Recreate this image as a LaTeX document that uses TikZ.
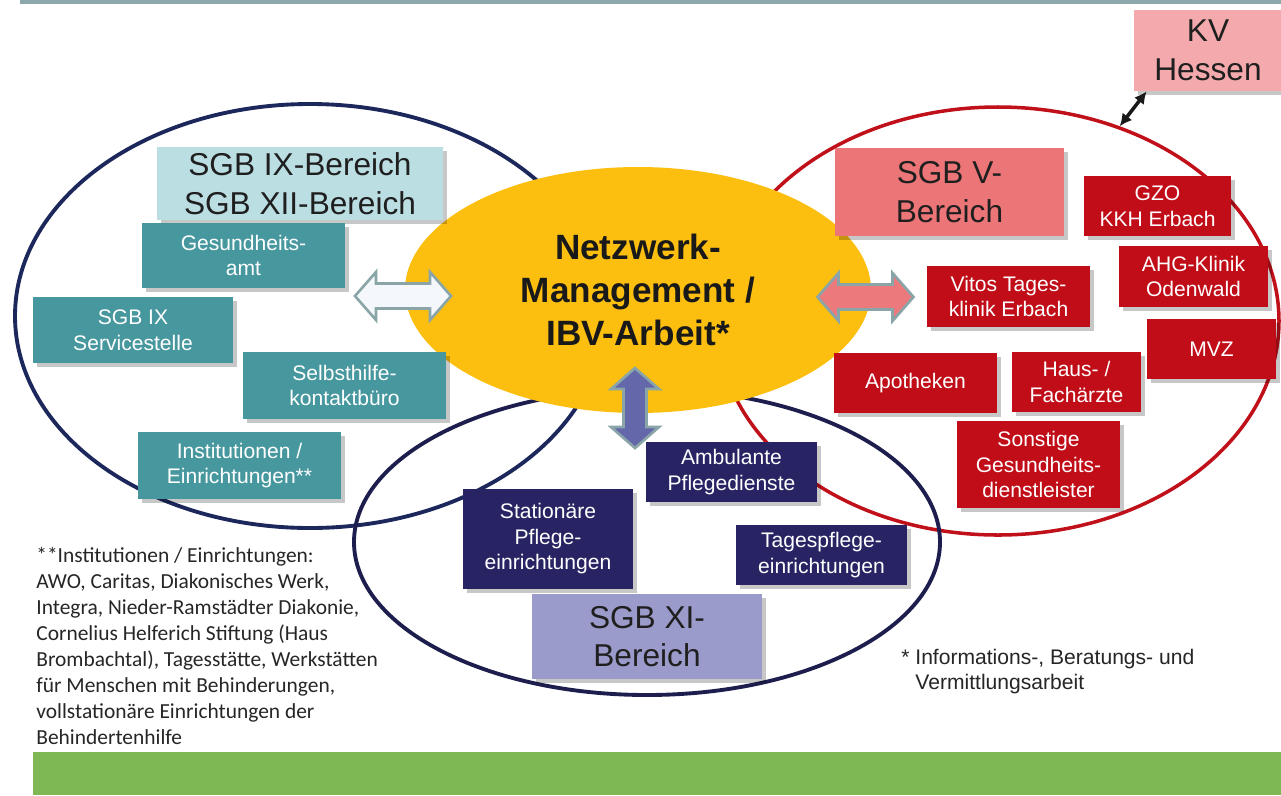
\documentclass[tikz,border=0pt]{standalone}
\usepackage{fontspec}
\setmainfont{Liberation Sans}
\newfontfamily\notefont{Carlito}
\usetikzlibrary{shapes.geometric,shadows,arrows.meta}
\definecolor{ringnavy}{RGB}{28,40,92}
\definecolor{ringdark}{RGB}{30,30,78}
\definecolor{ringred}{RGB}{192,16,26}
\definecolor{netyellow}{RGB}{252,191,16}
\definecolor{tealfill}{RGB}{70,151,158}
\definecolor{ixblue}{RGB}{187,222,227}
\definecolor{vred}{RGB}{192,13,23}
\definecolor{vpink}{RGB}{236,117,120}
\definecolor{kvpink}{RGB}{244,169,172}
\definecolor{xinavy}{RGB}{40,36,100}
\definecolor{xililac}{RGB}{155,155,203}
\definecolor{arrowrim}{RGB}{138,165,168}
\definecolor{arrowwhite}{RGB}{244,248,252}
\definecolor{arrowpink}{RGB}{236,122,124}
\definecolor{arrowlilac}{RGB}{100,104,170}
\definecolor{topbar}{RGB}{141,168,172}
\definecolor{footgreen}{RGB}{125,184,84}
\definecolor{notegray}{RGB}{38,38,38}
\newlength{\pxu}
\setlength{\pxu}{0.02cm}

\begin{document}
\begin{tikzpicture}[x=0.02cm,y=-0.02cm,>={Latex[length=7pt,width=7pt]},
        ring/.style={ellipse,draw,inner sep=0pt,line width=2.2pt},
        pane/.style={rectangle,inner sep=0pt,align=center,text=white,
            font=\fontsize{12}{14.5}\selectfont,
            drop shadow={shadow xshift=2.5pt,shadow yshift=-2.5pt,fill=black,opacity=0.22}},
        headbox/.style={pane,text=black!88,font=\fontsize{18}{22}\selectfont},
        bigarrow/.style={draw=arrowrim,line width=1.5pt}]
        \fill[white] (0,0) rectangle (1281,795);
        \useasboundingbox (0,0) rectangle (1281,795);
        \fill[topbar] (20,0) rectangle (1281,3.5);
        \fill[footgreen] (33,752) rectangle (1281,795);

        \node[ring,draw=ringnavy,minimum width=590\pxu,minimum height=424\pxu] (ixring) at (310,316) {};
        \node[ring,draw=ringred,line width=2pt,minimum width=562\pxu,minimum height=428\pxu] (vring) at (998,321) {};
        \node[ring,draw=ringdark,minimum width=586\pxu,minimum height=306\pxu] (xiring) at (647,542) {};
        \node[ellipse,fill=netyellow,inner sep=0pt,minimum width=466\pxu,minimum height=246\pxu,
            align=center,text=black!90,font=\fontsize{20}{24.5}\selectfont\bfseries] (netz) at (638,290)
            {Netzwerk-\\Management /\\IBV-Arbeit*};

        \draw[bigarrow,fill=arrowwhite,shift={(403,296)}] (-48,0)--(-27,-24)--(-27,-12.5)--(27,-12.5)--(27,-24)
            --(48,0)--(27,24)--(27,12.5)--(-27,12.5)--(-27,24)--cycle;
        \draw[bigarrow,fill=arrowpink,shift={(865.5,297)}] (-48,0)--(-27,-24)--(-27,-12.5)--(27,-12.5)--(27,-24)
            --(48,0)--(27,24)--(27,12.5)--(-27,12.5)--(-27,24)--cycle;
        \draw[bigarrow,fill=arrowlilac,shift={(635,408)}] (0,-40)--(-24,-19)--(-11.5,-19)--(-11.5,19)--(-24,19)
            --(0,40)--(24,19)--(11.5,19)--(11.5,-19)--(24,-19)--cycle;

        \node[headbox,fill=ixblue,minimum width=286\pxu,minimum height=73\pxu] (ixhead) at (300,183.5) {SGB IX-Bereich\\SGB XII-Bereich};
        \node[pane,fill=tealfill,minimum width=203\pxu,minimum height=65\pxu] (gesamt) at (243.5,255.5) {Gesundheits-\\amt};
        \node[pane,fill=tealfill,minimum width=200\pxu,minimum height=66\pxu] (service) at (133,330) {SGB IX\\Servicestelle};
        \node[pane,fill=tealfill,minimum width=203\pxu,minimum height=67\pxu] (selbst) at (344.5,385.5) {Selbsthilfe-\\kontaktbüro};
        \node[pane,fill=tealfill,minimum width=203\pxu,minimum height=67\pxu] (instit) at (239.5,465.5) {Institutionen /\\Einrichtungen**};

        \node[headbox,fill=kvpink,minimum width=148\pxu,minimum height=81\pxu] (kv) at (1208,50.5) {KV\\Hessen};
        \node[headbox,fill=vpink,minimum width=229\pxu,minimum height=88\pxu] (vhead) at (949.5,192) {SGB V-\\Bereich};
        \node[pane,fill=vred,minimum width=147\pxu,minimum height=60\pxu] (gzo) at (1157.5,206) {GZO\\KKH Erbach};
        \node[pane,fill=vred,minimum width=149\pxu,minimum height=61\pxu] (ahg) at (1193.5,276.5) {AHG-Klinik\\Odenwald};
        \node[pane,fill=vred,minimum width=163\pxu,minimum height=61\pxu] (vitos) at (1008.5,296.5) {Vitos Tages-\\klinik Erbach};
        \node[pane,fill=vred,minimum width=129\pxu,minimum height=60\pxu] (mvz) at (1211.5,349) {MVZ};
        \node[pane,fill=vred,minimum width=163\pxu,minimum height=60\pxu] (apo) at (915.5,383) {Apotheken};
        \node[pane,fill=vred,minimum width=129\pxu,minimum height=60\pxu] (haus) at (1076.5,382) {Haus- /\\Fachärzte};
        \node[pane,fill=vred,minimum width=163\pxu,minimum height=87\pxu] (sonst) at (1038.5,464.5) {Sonstige\\Gesundheits-\\dienstleister};

        \node[pane,fill=xinavy,minimum width=171\pxu,minimum height=60\pxu] (ambul) at (731.5,472) {Ambulante\\Pflegedienste};
        \node[pane,fill=xinavy,minimum width=170\pxu,minimum height=100\pxu] (station) at (548,539) {Stationäre\\Pflege-\\einrichtungen};
        \node[pane,fill=xinavy,minimum width=171\pxu,minimum height=60\pxu] (tages) at (821.5,555) {Tagespflege-\\einrichtungen};
        \node[headbox,fill=xililac,minimum width=230\pxu,minimum height=85\pxu] (xihead) at (647,636.5) {SGB XI-\\Bereich};

        \draw[<->,line width=2pt,black!90] (vring.58) -- ([xshift=13\pxu]kv.south west);

        \node[anchor=north west,inner sep=0pt,align=left,text=notegray,
            font=\notefont\fontsize{12.2}{14.8}\selectfont] (instnote) at (36,547)
            {**Institutionen / Einrichtungen:\\AWO, Caritas, Diakonisches Werk,\\Integra, Nieder-Ramstädter Diakonie,\\Cornelius Helferich Stiftung (Haus\\Brombachtal), Tagesstätte, Werkstätten\\für Menschen mit Behinderungen,\\vollstationäre Einrichtungen der\\Behindertenhilfe};
        \node[anchor=north west,inner sep=0pt,align=left,text=notegray,
            font=\fontsize{12}{14}\selectfont] (ibvnote) at (901,649)
            {* Informations-, Beratungs- und\\\hphantom{*\ }Vermittlungsarbeit};
\end{tikzpicture}
\end{document}
